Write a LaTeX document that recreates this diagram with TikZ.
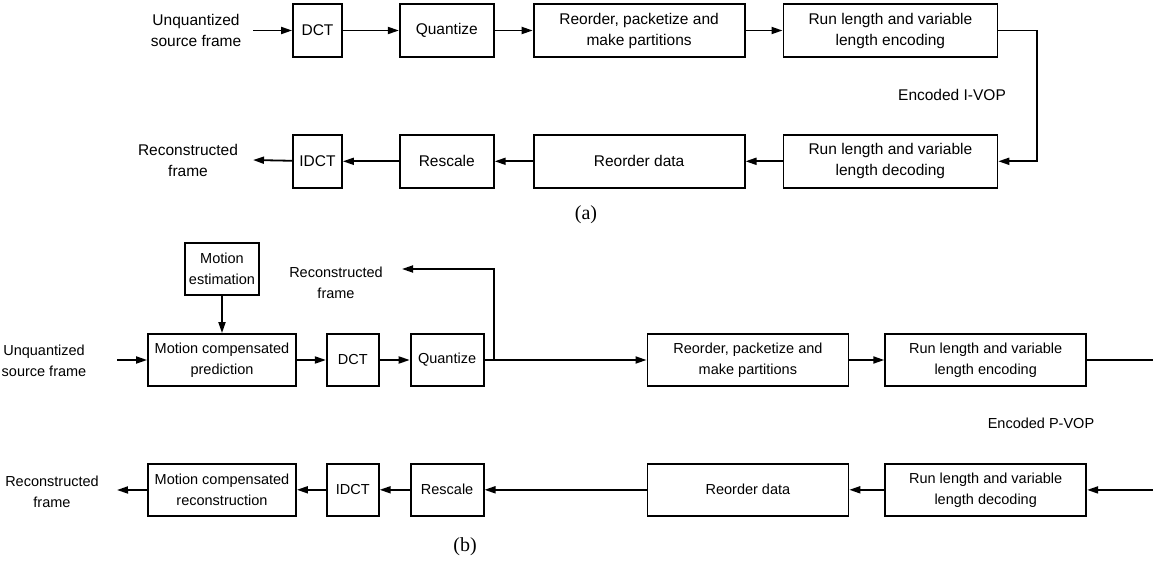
\documentclass[tikz,border=0pt]{standalone}
\usepackage{fontspec}
\setmainfont{Liberation Sans}
\newfontfamily\capfont{Liberation Serif}
\usepackage{tikz}
\usetikzlibrary{arrows.meta}
\usetikzlibrary{positioning}
\tikzset{
    block/.style={
           rectangle,
           draw=black,
           line width=1.8pt,
           minimum height=53pt,
           inner sep=2pt,
           align=center,
           text centered,
           },
    lbl/.style={align=center, inner sep=0pt},
    fontb/.style={font=\fontsize{14.5}{21}\selectfont},
    captxt/.style={inner sep=0pt, font=\capfont\fontsize{20}{24}\selectfont},
}
\begin{document}
\begin{tikzpicture}[->,>={Triangle[length=11pt,width=7pt]},
  x=1pt, y=-1pt, line width=1.8pt,
  font=\fontsize{15.5}{21}\selectfont]
 \useasboundingbox (0,0) rectangle (1153,561);

 % (a) I-VOP
 \node[block, minimum width=49pt] (DCTA) at (317.5,30.5) {DCT};
 \node[block, minimum width=94pt, right=56pt of DCTA] (QUANTA) {Quantize};
 \node[block, minimum width=211pt, right=38pt of QUANTA] (REORDA)
   {Reorder, packetize and\\make partitions};
 \node[block, minimum width=214pt, right=37pt of REORDA] (RLEA)
   {Run length and variable\\length encoding};
 \node[block, minimum width=214pt, below=76pt of RLEA] (RLDA)
   {Run length and variable\\length decoding};
 \node[block, minimum width=211pt, below=76pt of REORDA] (REORDDA) {Reorder data};
 \node[block, minimum width=94pt, below=76pt of QUANTA] (RESCA) {Rescale};
 \node[block, minimum width=49pt, below=76pt of DCTA] (IDCTA) {IDCT};

 \node[lbl] (SRCA) at (196,30.5) {Unquantized\\source frame};
 \node[lbl] (RECA) at (188,160) {Reconstructed\\frame};
 \node[lbl] (VOPA) at (952,95) {Encoded I-VOP};
 \node[captxt] (CAPA) at (586,215) {(a)};
 \coordinate (INA) at (253,30.5);
 \coordinate (OUTA) at (253,160);
 \coordinate (TURNA) at (1037,30.5);

 \draw (INA) -- (DCTA);
 \draw (DCTA) -- (QUANTA);
 \draw (QUANTA) -- (REORDA);
 \draw (REORDA) -- (RLEA);
 \draw (RLEA) -- (TURNA) |- (RLDA);
 \draw (RLDA) -- (REORDDA);
 \draw (REORDDA) -- (RESCA);
 \draw (RESCA) -- (IDCTA);
 \draw (IDCTA) -- (OUTA);

 % (b) P-VOP
 \begin{scope}[fontb]
 \node[block, minimum width=148pt, minimum height=52pt] (MCPB) at (222,360)
   {Motion compensated\\prediction};
 \node[block, minimum width=74pt, minimum height=52pt, above=37pt of MCPB] (MEB)
   {Motion\\estimation};
 \node[block, minimum width=52pt, minimum height=52pt, right=29pt of MCPB] (DCTB) {DCT};
 \node[block, minimum width=73pt, minimum height=52pt, right=30pt of DCTB] (QUANTB) {Quantize};
 \node[block, minimum width=201pt, minimum height=52pt, right=162pt of QUANTB] (REORDB)
   {Reorder, packetize and\\make partitions};
 \node[block, minimum width=201pt, minimum height=52pt, right=35pt of REORDB] (RLEB)
   {Run length and variable\\length encoding};
 \node[block, minimum width=201pt, minimum height=52pt, below=76pt of RLEB] (RLDB)
   {Run length and variable\\length decoding};
 \node[block, minimum width=201pt, minimum height=52pt, below=76pt of REORDB] (REORDDB)
   {Reorder data};
 \node[block, minimum width=73pt, minimum height=52pt, below=76pt of QUANTB] (RESCB) {Rescale};
 \node[block, minimum width=52pt, minimum height=52pt, below=76pt of DCTB] (IDCTB) {IDCT};
 \node[block, minimum width=148pt, minimum height=52pt, below=76pt of MCPB] (MCRB)
   {Motion compensated\\reconstruction};

 \node[lbl] (SRCB) at (44,361) {Unquantized\\source frame};
 \node[lbl] (RECB) at (52,492) {Reconstructed\\frame};
 \node[lbl] (RECFB) at (336,283) {Reconstructed\\frame};
 \node[lbl] (VOPB) at (1041,423) {Encoded P-VOP};
 \end{scope}
 \node[captxt] (CAPB) at (465,547) {(b)};
 \coordinate (INB) at (117,360);
 \coordinate (OUTB) at (117,490);
 \coordinate (JCTB) at (494,360);
 \coordinate (RETB) at (402,269);
 \coordinate (EDGEB) at (1153,360);
 \coordinate (EDGEINB) at (1153,490);

 \draw (INB) -- (MCPB);
 \draw (MEB) -- (MCPB);
 \draw (MCPB) -- (DCTB);
 \draw (DCTB) -- (QUANTB);
 \draw[-] (QUANTB) -- (JCTB);
 \draw (JCTB) -- (REORDB);
 \draw (JCTB) |- (RETB);
 \draw (REORDB) -- (RLEB);
 \draw[-] (RLEB) -- (EDGEB);
 \draw (EDGEINB) -- (RLDB);
 \draw (RLDB) -- (REORDDB);
 \draw (REORDDB) -- (RESCB);
 \draw (RESCB) -- (IDCTB);
 \draw (IDCTB) -- (MCRB);
 \draw (MCRB) -- (OUTB);
\end{tikzpicture}
\end{document}
